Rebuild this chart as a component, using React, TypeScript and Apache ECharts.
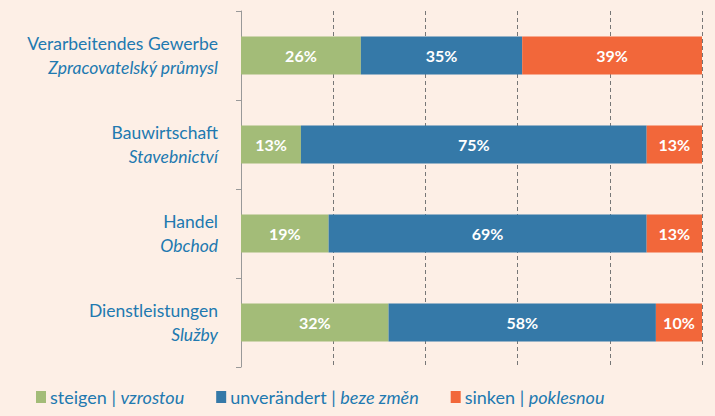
import React, { useEffect, useRef } from "react";
import * as echarts from "echarts";

const categoriesDe = ["Verarbeitendes Gewerbe", "Bauwirtschaft", "Handel", "Dienstleistungen"];
const categoriesCz = ["Zpracovatelský průmysl", "Stavebnictví", "Obchod", "Služby"];
const steigen = [26, 13, 19, 32];
const unveraendert = [35, 75, 69, 58];
const sinken = [39, 13, 13, 10];
const seriesNamesDe = ["steigen", "unverändert", "sinken"];
const seriesNamesCz = ["vzrostou", "beze změn", "poklesnou"];
const xTicks = [0, 20, 40, 60, 80, 100];

const colors = ["#a3bc78", "#3579a8", "#f2673a"];
const textBlue = "#2179b0";
const FONT = "Lato, 'Open Sans', sans-serif";

export default function App() {
  const ref = useRef<HTMLDivElement>(null);
  useEffect(() => {
    if (!ref.current) return;
    const chart = echarts.init(ref.current, undefined, { renderer: "svg" });
    const raw = [steigen, unveraendert, sinken];
    const catKeys = categoriesDe.map((_, i) => String(i));
    chart.setOption({
      animation: false,
      backgroundColor: "#fdefe6",
      textStyle: { fontFamily: FONT },
      grid: { left: 241, right: 13, top: 11, bottom: 49, containLabel: false },
      legend: {
        top: 388,
        left: 36,
        padding: 0,
        itemWidth: 10,
        itemHeight: 12,
        itemGap: 32,
        icon: "rect",
        data: seriesNamesDe,
        formatter: (name: string) => {
          const i = seriesNamesDe.indexOf(name);
          return `{a|${name} | }{b|${seriesNamesCz[i]}}`;
        },
        textStyle: {
          rich: {
            a: { fontSize: 18, color: textBlue, fontFamily: FONT, lineHeight: 22 },
            b: { fontSize: 18, color: textBlue, fontStyle: "italic", fontFamily: FONT, lineHeight: 22 },
          },
          padding: [0, 0, 0, -1],
        },
      },
      xAxis: {
        type: "value",
        min: xTicks[0],
        max: xTicks[xTicks.length - 1],
        interval: 20,
        axisLabel: { show: false },
        axisLine: { show: false },
        axisTick: { show: false },
        splitLine: {
          show: true,
          lineStyle: { color: "#777", type: [4, 3], width: 1 },
        },
      },
      yAxis: {
        type: "category",
        inverse: true,
        data: catKeys,
        axisLine: { show: true, lineStyle: { color: "#999", width: 1 } },
        axisTick: { show: true, length: 5, lineStyle: { color: "#999" } },
        axisLabel: {
          margin: 23,
          align: "right",
          lineHeight: 24,
          formatter: (v: string) => {
            const i = Number(v);
            return `{a|${categoriesDe[i]}}\n{b|${categoriesCz[i]}}`;
          },
          rich: {
            a: { fontSize: 17.5, color: textBlue, fontFamily: FONT, lineHeight: 24, align: "right" },
            b: { fontSize: 17.5, color: textBlue, fontStyle: "italic", fontFamily: FONT, lineHeight: 24, align: "right" },
          },
        },
      },
      series: raw.map((arr, si) => ({
        name: seriesNamesDe[si],
        type: "bar",
        stack: "total",
        barWidth: 38,
        clip: true,
        itemStyle: { color: colors[si] },
        label: {
          show: true,
          position: "inside",
          color: "#ffffff",
          fontWeight: "bold",
          fontSize: 16,
          fontFamily: FONT,
          formatter: (p: any) => `${arr[p.dataIndex]}%`,
        },
        data: arr,
      })),
    });
    return () => chart.dispose();
  }, []);
  return <div ref={ref} style={{ width: 715, height: 416, position: "absolute", left: 0, top: 0 }} />;
}
